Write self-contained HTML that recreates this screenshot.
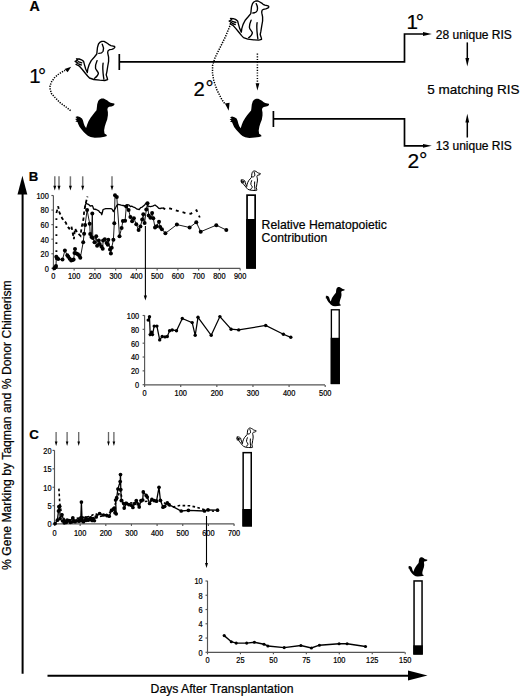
<!DOCTYPE html>
<html><head><meta charset="utf-8"><style>
html,body{margin:0;padding:0;background:#fff;}
svg{display:block;}
svg text{font-family:"Liberation Sans", sans-serif; stroke:#000; stroke-width:0.22px;}
</style></head><body>
<svg width="520" height="696" viewBox="0 0 520 696">
<rect width="520" height="696" fill="#fff"/>
<text x="29.5" y="11.2" font-size="14.2" text-anchor="start" font-weight="bold" >A</text>
<g transform="translate(75.3,40.4) scale(1.0)" fill="none" stroke="#000" stroke-width="1.35" stroke-linejoin="round" stroke-linecap="round"><path d="M26.4,1 L28.7,1 L30.5,2 L32.4,3.1 L33.8,4.3 L35.6,5.2 L37.9,5.7 L39.3,6.1 L39.5,7 L38.4,8.2 L36.5,8.9 L34.2,9.3 L32.8,10.3 L32.4,12 L32.6,13.4 L33.3,16.8 L33.3,21 L32.4,26.1 L31.6,31.2 L30.9,34.5 L32,37.9 L32.3,39.3 L29.5,40.1 L24.4,39.8 L18.5,39.1 L14.2,37.6 L12.3,35.6 L10,32.8 L6.6,28.6 L3.7,25.4 L0.7,24 L2.4,22.6 L-0.2,21 L2.4,19.8 L1.2,18.4 L3.9,18.6 L6.2,19.4 L8.3,21 L9.2,24.4 L10.4,28.6 L12,32.2 L12.5,28.6 L13.8,24.4 L15.9,20.2 L18.9,16.8 L21.5,13.6 L21.8,10.5 L22.2,6.8 L23.2,3.6 L24.5,2 Z" fill="#fff"/><path d="M26.9,3.7 C28.2,6 28.4,9 27.8,10.8 C27,12.3 25,13 23.5,13 M21.8,20.2 C20.6,23 20,26 20.2,27.8 C20.6,29.5 22.5,31 23.1,32.8 C23,34.5 21.6,36.2 19.3,37.9 M27.8,22.7 C27.3,26 27.5,31 28.2,36.2 L28.6,38.8 M3.2,23.5 L6,24.6 M2.8,21.3 L6.5,22.5"/></g>
<g transform="translate(75,97.5) scale(1.0)"><path d="M26.4,1 L28.7,1 L30.5,2 L32.4,3.1 L33.8,4.3 L35.6,5.2 L37.9,5.7 L39.3,6.1 L39.5,7 L38.4,8.2 L36.5,8.9 L34.2,9.3 L32.8,10.3 L32.4,12 L32.9,14.7 L32.9,17.8 L32.2,22 L30.9,25.4 L29.8,28.9 L29.1,32.7 L29.5,36.1 L31.5,37.2 L31.9,38.5 L29.5,39.2 L25.3,39.9 L19.8,40.3 L15.6,39.6 L12.9,38.2 L10.8,36.5 L8.7,34.4 L6.6,32 L4.5,29.2 L3.2,26.4 L2.5,24.6 L0.4,24 L1.8,22.8 L0,21.6 L2.1,20.9 L0.4,19.5 L2.5,18.8 L4.9,19.5 L7,20.9 L8,23 L8.7,25.7 L9.7,28.5 L11.1,30.6 L12.2,27.1 L13.5,23.7 L15.6,20.2 L17.7,17.4 L19.8,14.7 L21.5,12.8 L21.8,10.5 L22.2,6.8 L23.2,3.6 L24.5,2 Z" fill="#000"/></g>
<g transform="translate(229.3,0) scale(1.0)" fill="none" stroke="#000" stroke-width="1.35" stroke-linejoin="round" stroke-linecap="round"><path d="M26.4,1 L28.7,1 L30.5,2 L32.4,3.1 L33.8,4.3 L35.6,5.2 L37.9,5.7 L39.3,6.1 L39.5,7 L38.4,8.2 L36.5,8.9 L34.2,9.3 L32.8,10.3 L32.4,12 L32.6,13.4 L33.3,16.8 L33.3,21 L32.4,26.1 L31.6,31.2 L30.9,34.5 L32,37.9 L32.3,39.3 L29.5,40.1 L24.4,39.8 L18.5,39.1 L14.2,37.6 L12.3,35.6 L10,32.8 L6.6,28.6 L3.7,25.4 L0.7,24 L2.4,22.6 L-0.2,21 L2.4,19.8 L1.2,18.4 L3.9,18.6 L6.2,19.4 L8.3,21 L9.2,24.4 L10.4,28.6 L12,32.2 L12.5,28.6 L13.8,24.4 L15.9,20.2 L18.9,16.8 L21.5,13.6 L21.8,10.5 L22.2,6.8 L23.2,3.6 L24.5,2 Z" fill="#fff"/><path d="M26.9,3.7 C28.2,6 28.4,9 27.8,10.8 C27,12.3 25,13 23.5,13 M21.8,20.2 C20.6,23 20,26 20.2,27.8 C20.6,29.5 22.5,31 23.1,32.8 C23,34.5 21.6,36.2 19.3,37.9 M27.8,22.7 C27.3,26 27.5,31 28.2,36.2 L28.6,38.8 M3.2,23.5 L6,24.6 M2.8,21.3 L6.5,22.5"/></g>
<g transform="translate(229.6,97.7) scale(1.0)"><path d="M26.4,1 L28.7,1 L30.5,2 L32.4,3.1 L33.8,4.3 L35.6,5.2 L37.9,5.7 L39.3,6.1 L39.5,7 L38.4,8.2 L36.5,8.9 L34.2,9.3 L32.8,10.3 L32.4,12 L32.9,14.7 L32.9,17.8 L32.2,22 L30.9,25.4 L29.8,28.9 L29.1,32.7 L29.5,36.1 L31.5,37.2 L31.9,38.5 L29.5,39.2 L25.3,39.9 L19.8,40.3 L15.6,39.6 L12.9,38.2 L10.8,36.5 L8.7,34.4 L6.6,32 L4.5,29.2 L3.2,26.4 L2.5,24.6 L0.4,24 L1.8,22.8 L0,21.6 L2.1,20.9 L0.4,19.5 L2.5,18.8 L4.9,19.5 L7,20.9 L8,23 L8.7,25.7 L9.7,28.5 L11.1,30.6 L12.2,27.1 L13.5,23.7 L15.6,20.2 L17.7,17.4 L19.8,14.7 L21.5,12.8 L21.8,10.5 L22.2,6.8 L23.2,3.6 L24.5,2 Z" fill="#000"/></g>
<text x="29.2" y="82.5" font-size="20.3">1<tspan dx="-2.6" dy="0.4">°</tspan></text>
<text x="193.6" y="95.6" font-size="20.3">2<tspan dx="0.6" dy="-0.6">°</tspan></text>
<text x="406.6" y="29.4" font-size="20.6">1<tspan dx="-2.4" dy="-0.6">°</tspan></text>
<text x="407.6" y="168" font-size="21">2<tspan dx="-0.4" dy="-1.2">°</tspan></text>
<polyline points="70.6,110.7 65.7,106.7 60.1,102.7 55.3,97.8 51.6,93.8 50.2,89.5 50.0,85.8 51.6,81.7 54.5,77.7 58.1,74.5 61.7,72.1 65.0,70.3" fill="none" stroke="#000" stroke-width="1.5" stroke-dasharray="1.3 1.2" stroke-linejoin="round"/>
<polygon points="71.2,66.7 64.6,69.0 67.6,72.2"/>
<polyline points="229.9,25.9 225.4,36.9 220.2,47.3 215.1,57.6 212.6,65.4 212.5,73.1 213.8,80.9 217.0,90.0 221.5,99.0 225.0,104.0" fill="none" stroke="#000" stroke-width="1.5" stroke-dasharray="1.3 1.2" stroke-linejoin="round"/>
<polygon points="228.7,110.8 224.9,103.4 229.6,102.8"/>
<line x1="257.4" y1="53.6" x2="257.4" y2="83.5" stroke="#000" stroke-width="1.5" stroke-dasharray="1.1 1.6"/>
<polygon points="257.4,90.4 255.6,83.3 259.4,83.3"/>
<g stroke="#000" stroke-width="1.7" fill="none" stroke-linejoin="miter">
<line x1="119.3" y1="54" x2="119.3" y2="70"/>
<polyline points="119.3,61.9 404.5,61.9 404.5,34.0 424,34.0"/>
<line x1="273.4" y1="111" x2="273.4" y2="127"/>
<polyline points="273.4,118.8 404.5,118.8 404.5,145.8 424,145.8"/>
</g>
<polygon points="431.8,34.0 423.0,32.1 423.0,35.9"/>
<polygon points="431.8,145.8 423.0,143.9 423.0,147.7"/>
<text x="435.8" y="38.7" font-size="12" text-anchor="start" font-weight="normal" >28 unique RIS</text>
<text x="435.8" y="150.2" font-size="12" text-anchor="start" font-weight="normal" >13 unique RIS</text>
<text x="427.3" y="94" font-size="13.5" text-anchor="start" font-weight="normal" >5 matching RIS</text>
<line x1="467.3" y1="42.4" x2="467.3" y2="59" stroke="#000" stroke-width="1.5"/>
<polygon points="467.3,66.6 465.4,58.0 469.2,58.0"/>
<line x1="467.3" y1="137.5" x2="467.3" y2="121" stroke="#000" stroke-width="1.5"/>
<polygon points="467.3,113.8 465.4,122.4 469.2,122.4"/>
<line x1="22.6" y1="192" x2="22.6" y2="673.8" stroke="#000" stroke-width="2"/>
<polygon points="22.4,175.8 17.5,194.5 27.3,194.5"/>
<line x1="47.5" y1="675.7" x2="410" y2="675.7" stroke="#000" stroke-width="2"/>
<polygon points="427.5,675.5 408,670.5 408,680.5"/>
<text x="150.6" y="692.6" font-size="12.2" text-anchor="start" font-weight="normal" >Days After Transplantation</text>
<text transform="translate(11.3,570) rotate(-90)" font-size="12.2">% Gene Marking by Taqman and % Donor Chimerism</text>
<text x="28.8" y="180.9" font-size="13.2" text-anchor="start" font-weight="bold" >B</text>
<text x="29.2" y="438.8" font-size="13.3" text-anchor="start" font-weight="bold" >C</text>
<g stroke="#555" stroke-width="1.15" fill="none"><line x1="53.4" y1="195.4" x2="53.4" y2="268.4"/><line x1="53.4" y1="268.4" x2="240.2" y2="268.4"/><line x1="51.4" y1="195.5" x2="53.4" y2="195.5"/><line x1="51.4" y1="210.06" x2="53.4" y2="210.06"/><line x1="51.4" y1="224.62" x2="53.4" y2="224.62"/><line x1="51.4" y1="239.18" x2="53.4" y2="239.18"/><line x1="51.4" y1="253.74" x2="53.4" y2="253.74"/><line x1="51.4" y1="268.3" x2="53.4" y2="268.3"/><line x1="53.4" y1="268.4" x2="53.4" y2="270.4"/><line x1="74.15" y1="268.4" x2="74.15" y2="270.4"/><line x1="94.9" y1="268.4" x2="94.9" y2="270.4"/><line x1="115.65" y1="268.4" x2="115.65" y2="270.4"/><line x1="136.4" y1="268.4" x2="136.4" y2="270.4"/><line x1="157.15" y1="268.4" x2="157.15" y2="270.4"/><line x1="177.9" y1="268.4" x2="177.9" y2="270.4"/><line x1="198.65" y1="268.4" x2="198.65" y2="270.4"/><line x1="219.4" y1="268.4" x2="219.4" y2="270.4"/><line x1="240.15" y1="268.4" x2="240.15" y2="270.4"/></g><g font-size="8.2" fill="#000"><text transform="translate(48.80,198.85) scale(0.9,1)" text-anchor="end">100</text><text transform="translate(48.80,213.41) scale(0.9,1)" text-anchor="end">80</text><text transform="translate(48.80,227.97) scale(0.9,1)" text-anchor="end">60</text><text transform="translate(48.80,242.53) scale(0.9,1)" text-anchor="end">40</text><text transform="translate(48.80,257.09) scale(0.9,1)" text-anchor="end">20</text><text transform="translate(48.80,271.65) scale(0.9,1)" text-anchor="end">0</text><text transform="translate(53.40,278.52) scale(0.9,1)" text-anchor="middle">0</text><text transform="translate(74.15,278.52) scale(0.9,1)" text-anchor="middle">100</text><text transform="translate(94.90,278.52) scale(0.9,1)" text-anchor="middle">200</text><text transform="translate(115.65,278.52) scale(0.9,1)" text-anchor="middle">300</text><text transform="translate(136.40,278.52) scale(0.9,1)" text-anchor="middle">400</text><text transform="translate(157.15,278.52) scale(0.9,1)" text-anchor="middle">500</text><text transform="translate(177.90,278.52) scale(0.9,1)" text-anchor="middle">600</text><text transform="translate(198.65,278.52) scale(0.9,1)" text-anchor="middle">700</text><text transform="translate(219.40,278.52) scale(0.9,1)" text-anchor="middle">800</text><text transform="translate(240.15,278.52) scale(0.9,1)" text-anchor="middle">900</text></g>
<polyline points="56.4,268.0 56.4,212.9" fill="none" stroke="#000" stroke-width="1.9" stroke-dasharray="1.7 6.3"/>
<polyline points="56.4,212.9 58.2,206.3 59.3,212.2 61.1,215.8 62.2,218.4 65.9,222.8 67.0,225.7 69.2,228.6 71.4,226.1 73.9,239.2 75.0,228.6 77.6,233.0 80.5,235.9 81.6,227.2 83.4,219.5 84.2,211.0 86.0,202.3 87.5,196.5" fill="none" stroke="#000" stroke-width="1.8" stroke-dasharray="3.4 2.6"/>
<polyline points="162.5,207.9 166.0,209.4 170.0,208.5 177.5,210.8 185.6,213.1 190.8,213.7 196.5,210.2 199.8,217.5" fill="none" stroke="#000" stroke-width="1.8" stroke-dasharray="3 4"/>
<polyline points="84.8,207.7 85.3,205.2 85.9,203.4 88.4,204.3 90.2,206.0 92.3,205.6 92.9,206.7 93.6,209.0 96.2,209.5 98.8,210.8 99.8,212.4 100.8,212.6 101.8,214.7 102.2,213.0 102.7,211.0 103.1,209.5 105.7,208.6 108.3,208.6 110.9,208.6 112.2,209.3 113.4,211.6 114.5,209.7 115.6,207.8 116.9,205.2 118.2,204.3 121.2,205.2 123.1,205.5 125.0,206.0 126.8,204.7 128.6,204.8 130.4,206.5 132.0,206.2 133.5,207.2 135.1,207.7 137.1,209.2 139.2,209.5 140.7,207.6 142.2,207.1 144.6,205.0 145.8,203.4 146.9,202.7 147.5,204.7 148.1,206.2 150.4,206.7 152.7,206.2 155.0,205.0 157.3,206.7 158.8,208.4 160.2,208.5 162.5,207.9" fill="none" stroke="#000" stroke-width="1.3" stroke-linejoin="round"/>
<polyline points="54.3,268.3 55.3,267.3 56.0,265.9 56.3,256.7 57.2,258.2 58.2,259.1 62.5,259.6 64.9,250.5 67.3,255.3 68.3,256.7 69.7,258.7 71.2,260.6 72.6,260.1 73.6,259.6 74.5,252.9 75.0,249.0 76.4,253.4 77.9,254.3 79.3,255.8 80.3,257.7 83.2,242.3 84.1,233.7 85.1,225.0 87.1,210.0 89.7,223.7 90.2,234.0 91.5,237.0 92.3,213.4 92.8,237.9 94.5,242.2 96.2,236.2 97.1,245.7 98.8,240.5 99.7,244.0 101.4,246.6 102.7,248.7 103.1,240.5 104.8,239.2 106.6,243.1 107.8,244.8 108.3,239.7 110.0,249.6 110.9,253.4 111.7,247.8 113.4,239.7 114.3,223.3 115.0,195.3 116.8,197.1 119.5,236.2 121.6,228.0 122.9,221.1 125.1,220.7 126.3,206.5 128.6,210.0 130.4,217.1 132.1,221.3 133.9,218.3 136.3,224.2 138.6,230.1 140.4,226.6 142.2,219.5 143.3,214.2 144.6,222.9 146.3,209.6 147.5,203.3 148.7,215.4 150.4,217.7 152.1,213.1 153.3,218.3 155.0,227.5 156.7,226.3 159.0,221.7 160.2,226.9 161.9,229.2 165.4,233.3 176.9,224.6 189.6,227.5 196.3,222.3 200.7,231.7 216.3,225.2 226.3,230.0" fill="none" stroke="#000" stroke-width="0.9"/>
<g fill="#000"><circle cx="54.3" cy="268.3" r="2.0"/><circle cx="55.3" cy="267.3" r="2.0"/><circle cx="56.0" cy="265.9" r="2.0"/><circle cx="56.3" cy="256.7" r="2.0"/><circle cx="57.2" cy="258.2" r="2.0"/><circle cx="58.2" cy="259.1" r="2.0"/><circle cx="62.5" cy="259.6" r="2.0"/><circle cx="64.9" cy="250.5" r="2.0"/><circle cx="67.3" cy="255.3" r="2.0"/><circle cx="68.3" cy="256.7" r="2.0"/><circle cx="69.7" cy="258.7" r="2.0"/><circle cx="71.2" cy="260.6" r="2.0"/><circle cx="72.6" cy="260.1" r="2.0"/><circle cx="73.6" cy="259.6" r="2.0"/><circle cx="74.5" cy="252.9" r="2.0"/><circle cx="75.0" cy="249.0" r="2.0"/><circle cx="76.4" cy="253.4" r="2.0"/><circle cx="77.9" cy="254.3" r="2.0"/><circle cx="79.3" cy="255.8" r="2.0"/><circle cx="80.3" cy="257.7" r="2.0"/><circle cx="83.2" cy="242.3" r="2.0"/><circle cx="84.1" cy="233.7" r="2.0"/><circle cx="85.1" cy="225.0" r="2.0"/><circle cx="87.1" cy="210.0" r="2.0"/><circle cx="89.7" cy="223.7" r="2.0"/><circle cx="90.2" cy="234.0" r="2.0"/><circle cx="91.5" cy="237.0" r="2.0"/><circle cx="92.3" cy="213.4" r="2.0"/><circle cx="92.8" cy="237.9" r="2.0"/><circle cx="94.5" cy="242.2" r="2.0"/><circle cx="96.2" cy="236.2" r="2.0"/><circle cx="97.1" cy="245.7" r="2.0"/><circle cx="98.8" cy="240.5" r="2.0"/><circle cx="99.7" cy="244.0" r="2.0"/><circle cx="101.4" cy="246.6" r="2.0"/><circle cx="102.7" cy="248.7" r="2.0"/><circle cx="103.1" cy="240.5" r="2.0"/><circle cx="104.8" cy="239.2" r="2.0"/><circle cx="106.6" cy="243.1" r="2.0"/><circle cx="107.8" cy="244.8" r="2.0"/><circle cx="108.3" cy="239.7" r="2.0"/><circle cx="110.0" cy="249.6" r="2.0"/><circle cx="110.9" cy="253.4" r="2.0"/><circle cx="111.7" cy="247.8" r="2.0"/><circle cx="113.4" cy="239.7" r="2.0"/><circle cx="114.3" cy="223.3" r="2.0"/><circle cx="115.0" cy="195.3" r="2.0"/><circle cx="116.8" cy="197.1" r="2.0"/><circle cx="119.5" cy="236.2" r="2.0"/><circle cx="121.6" cy="228.0" r="2.0"/><circle cx="122.9" cy="221.1" r="2.0"/><circle cx="125.1" cy="220.7" r="2.0"/><circle cx="126.3" cy="206.5" r="2.0"/><circle cx="128.6" cy="210.0" r="2.0"/><circle cx="130.4" cy="217.1" r="2.0"/><circle cx="132.1" cy="221.3" r="2.0"/><circle cx="133.9" cy="218.3" r="2.0"/><circle cx="136.3" cy="224.2" r="2.0"/><circle cx="138.6" cy="230.1" r="2.0"/><circle cx="140.4" cy="226.6" r="2.0"/><circle cx="142.2" cy="219.5" r="2.0"/><circle cx="143.3" cy="214.2" r="2.0"/><circle cx="144.6" cy="222.9" r="2.0"/><circle cx="146.3" cy="209.6" r="2.0"/><circle cx="147.5" cy="203.3" r="2.0"/><circle cx="148.7" cy="215.4" r="2.0"/><circle cx="150.4" cy="217.7" r="2.0"/><circle cx="152.1" cy="213.1" r="2.0"/><circle cx="153.3" cy="218.3" r="2.0"/><circle cx="155.0" cy="227.5" r="2.0"/><circle cx="156.7" cy="226.3" r="2.0"/><circle cx="159.0" cy="221.7" r="2.0"/><circle cx="160.2" cy="226.9" r="2.0"/><circle cx="161.9" cy="229.2" r="2.0"/><circle cx="165.4" cy="233.3" r="2.0"/><circle cx="176.9" cy="224.6" r="2.0"/><circle cx="189.6" cy="227.5" r="2.0"/><circle cx="196.3" cy="222.3" r="2.0"/><circle cx="200.7" cy="231.7" r="2.0"/><circle cx="216.3" cy="225.2" r="2.0"/><circle cx="226.3" cy="230.0" r="2.0"/></g>
<line x1="54.8" y1="176.3" x2="54.8" y2="187" stroke="#777" stroke-width="1.5"/>
<polygon points="54.8,190.4 53.3,185.8 56.3,185.8"/>
<line x1="59" y1="176.3" x2="59" y2="187" stroke="#777" stroke-width="1.5"/>
<polygon points="59.0,190.4 57.5,185.8 60.5,185.8"/>
<line x1="70.4" y1="176.3" x2="70.4" y2="187" stroke="#777" stroke-width="1.5"/>
<polygon points="70.4,190.4 68.9,185.8 71.9,185.8"/>
<line x1="82.7" y1="176.3" x2="82.7" y2="187" stroke="#777" stroke-width="1.5"/>
<polygon points="82.7,190.4 81.2,185.8 84.2,185.8"/>
<line x1="112" y1="176.3" x2="112" y2="187" stroke="#777" stroke-width="1.5"/>
<polygon points="112.0,190.4 110.5,185.8 113.5,185.8"/>
<g transform="translate(240.75,170.5) scale(0.5)" fill="none" stroke="#000" stroke-width="2.0" stroke-linejoin="round" stroke-linecap="round"><path d="M26.4,1 L28.7,1 L30.5,2 L32.4,3.1 L33.8,4.3 L35.6,5.2 L37.9,5.7 L39.3,6.1 L39.5,7 L38.4,8.2 L36.5,8.9 L34.2,9.3 L32.8,10.3 L32.4,12 L32.6,13.4 L33.3,16.8 L33.3,21 L32.4,26.1 L31.6,31.2 L30.9,34.5 L32,37.9 L32.3,39.3 L29.5,40.1 L24.4,39.8 L18.5,39.1 L14.2,37.6 L12.3,35.6 L10,32.8 L6.6,28.6 L3.7,25.4 L0.7,24 L2.4,22.6 L-0.2,21 L2.4,19.8 L1.2,18.4 L3.9,18.6 L6.2,19.4 L8.3,21 L9.2,24.4 L10.4,28.6 L12,32.2 L12.5,28.6 L13.8,24.4 L15.9,20.2 L18.9,16.8 L21.5,13.6 L21.8,10.5 L22.2,6.8 L23.2,3.6 L24.5,2 Z" fill="#fff"/><path d="M26.9,3.7 C28.2,6 28.4,9 27.8,10.8 C27,12.3 25,13 23.5,13 M21.8,20.2 C20.6,23 20,26 20.2,27.8 C20.6,29.5 22.5,31 23.1,32.8 C23,34.5 21.6,36.2 19.3,37.9 M27.8,22.7 C27.3,26 27.5,31 28.2,36.2 L28.6,38.8 M3.2,23.5 L6,24.6 M2.8,21.3 L6.5,22.5"/></g>
<rect x="246.2" y="219" width="9.8" height="49.700000000000045" fill="#000"/><rect x="247.05" y="195.15" width="8.10" height="72.70" fill="none" stroke="#000" stroke-width="1.7"/>
<text x="261.6" y="229.0" font-size="12.2" text-anchor="start" font-weight="normal" >Relative Hematopoietic</text>
<text x="261.6" y="242.0" font-size="12.2" text-anchor="start" font-weight="normal" >Contribution</text>
<line x1="145.4" y1="226" x2="145.4" y2="296" stroke="#000" stroke-width="1.1"/>
<polygon points="145.4,300.6 143.8,295.6 147.0,295.6"/>
<g stroke="#555" stroke-width="1.15" fill="none"><line x1="144.6" y1="315.2" x2="144.6" y2="384.9"/><line x1="144.6" y1="384.9" x2="325" y2="384.9"/><line x1="142.6" y1="315.5" x2="144.6" y2="315.5"/><line x1="142.6" y1="329.34" x2="144.6" y2="329.34"/><line x1="142.6" y1="343.18" x2="144.6" y2="343.18"/><line x1="142.6" y1="357.02" x2="144.6" y2="357.02"/><line x1="142.6" y1="370.86" x2="144.6" y2="370.86"/><line x1="142.6" y1="384.7" x2="144.6" y2="384.7"/><line x1="144.6" y1="384.9" x2="144.6" y2="386.9"/><line x1="180.72" y1="384.9" x2="180.72" y2="386.9"/><line x1="216.84" y1="384.9" x2="216.84" y2="386.9"/><line x1="252.95999999999998" y1="384.9" x2="252.95999999999998" y2="386.9"/><line x1="289.08000000000004" y1="384.9" x2="289.08000000000004" y2="386.9"/><line x1="325.20000000000005" y1="384.9" x2="325.20000000000005" y2="386.9"/></g><g font-size="8.2" fill="#000"><text transform="translate(139.10,318.85) scale(0.9,1)" text-anchor="end">100</text><text transform="translate(139.10,332.69) scale(0.9,1)" text-anchor="end">80</text><text transform="translate(139.10,346.53) scale(0.9,1)" text-anchor="end">60</text><text transform="translate(139.10,360.37) scale(0.9,1)" text-anchor="end">40</text><text transform="translate(139.10,374.21) scale(0.9,1)" text-anchor="end">20</text><text transform="translate(139.10,388.05) scale(0.9,1)" text-anchor="end">0</text><text transform="translate(144.60,395.92) scale(0.9,1)" text-anchor="middle">0</text><text transform="translate(180.72,395.92) scale(0.9,1)" text-anchor="middle">100</text><text transform="translate(216.84,395.92) scale(0.9,1)" text-anchor="middle">200</text><text transform="translate(252.96,395.92) scale(0.9,1)" text-anchor="middle">300</text><text transform="translate(289.08,395.92) scale(0.9,1)" text-anchor="middle">400</text><text transform="translate(325.20,395.92) scale(0.9,1)" text-anchor="middle">500</text></g>
<polyline points="148.2,320.1 149.5,316.8 150.2,334.6 151.6,332.3 152.5,334.6 154.2,326.1 156.9,326.1 159.7,339.9 162.2,336.5 165.0,336.9 167.3,336.5 169.6,330.7 172.2,330.0 176.5,330.7 182.3,318.5 192.2,322.6 195.2,335.3 198.0,317.3 211.2,335.3 219.9,316.6 231.1,329.2 238.7,329.9 265.7,325.5 283.4,334.3 290.8,337.3" fill="none" stroke="#000" stroke-width="1.25"/>
<g fill="#000"><circle cx="148.2" cy="320.1" r="1.7"/><circle cx="149.5" cy="316.8" r="1.7"/><circle cx="150.2" cy="334.6" r="1.7"/><circle cx="151.6" cy="332.3" r="1.7"/><circle cx="152.5" cy="334.6" r="1.7"/><circle cx="154.2" cy="326.1" r="1.7"/><circle cx="156.9" cy="326.1" r="1.7"/><circle cx="159.7" cy="339.9" r="1.7"/><circle cx="162.2" cy="336.5" r="1.7"/><circle cx="165.0" cy="336.9" r="1.7"/><circle cx="167.3" cy="336.5" r="1.7"/><circle cx="169.6" cy="330.7" r="1.7"/><circle cx="172.2" cy="330.0" r="1.7"/><circle cx="176.5" cy="330.7" r="1.7"/><circle cx="182.3" cy="318.5" r="1.7"/><circle cx="192.2" cy="322.6" r="1.7"/><circle cx="195.2" cy="335.3" r="1.7"/><circle cx="198.0" cy="317.3" r="1.7"/><circle cx="211.2" cy="335.3" r="1.7"/><circle cx="219.9" cy="316.6" r="1.7"/><circle cx="231.1" cy="329.2" r="1.7"/><circle cx="238.7" cy="329.9" r="1.7"/><circle cx="265.7" cy="325.5" r="1.7"/><circle cx="283.4" cy="334.3" r="1.7"/><circle cx="290.8" cy="337.3" r="1.7"/></g>
<g transform="translate(325.35,286.5) scale(0.49)"><path d="M26.4,1 L28.7,1 L30.5,2 L32.4,3.1 L33.8,4.3 L35.6,5.2 L37.9,5.7 L39.3,6.1 L39.5,7 L38.4,8.2 L36.5,8.9 L34.2,9.3 L32.8,10.3 L32.4,12 L32.9,14.7 L32.9,17.8 L32.2,22 L30.9,25.4 L29.8,28.9 L29.1,32.7 L29.5,36.1 L31.5,37.2 L31.9,38.5 L29.5,39.2 L25.3,39.9 L19.8,40.3 L15.6,39.6 L12.9,38.2 L10.8,36.5 L8.7,34.4 L6.6,32 L4.5,29.2 L3.2,26.4 L2.5,24.6 L0.4,24 L1.8,22.8 L0,21.6 L2.1,20.9 L0.4,19.5 L2.5,18.8 L4.9,19.5 L7,20.9 L8,23 L8.7,25.7 L9.7,28.5 L11.1,30.6 L12.2,27.1 L13.5,23.7 L15.6,20.2 L17.7,17.4 L19.8,14.7 L21.5,12.8 L21.8,10.5 L22.2,6.8 L23.2,3.6 L24.5,2 Z" fill="#000"/></g>
<rect x="330.7" y="337.8" width="9.2" height="46.30000000000001" fill="#000"/><rect x="331.38" y="309.78" width="7.85" height="73.65" fill="none" stroke="#000" stroke-width="1.35"/>
<g stroke="#555" stroke-width="1.15" fill="none"><line x1="54.5" y1="450.3" x2="54.5" y2="523.9"/><line x1="54.5" y1="523.9" x2="234.3" y2="523.9"/><line x1="52.5" y1="450.4" x2="54.5" y2="450.4"/><line x1="52.5" y1="468.83" x2="54.5" y2="468.83"/><line x1="52.5" y1="487.26" x2="54.5" y2="487.26"/><line x1="52.5" y1="505.69" x2="54.5" y2="505.69"/><line x1="52.5" y1="524.12" x2="54.5" y2="524.12"/><line x1="54.5" y1="523.9" x2="54.5" y2="525.9"/><line x1="80.15" y1="523.9" x2="80.15" y2="525.9"/><line x1="105.80000000000001" y1="523.9" x2="105.80000000000001" y2="525.9"/><line x1="131.45" y1="523.9" x2="131.45" y2="525.9"/><line x1="157.10000000000002" y1="523.9" x2="157.10000000000002" y2="525.9"/><line x1="182.75" y1="523.9" x2="182.75" y2="525.9"/><line x1="208.4" y1="523.9" x2="208.4" y2="525.9"/><line x1="234.05" y1="523.9" x2="234.05" y2="525.9"/></g><g font-size="8.2" fill="#000"><text transform="translate(51.50,453.75) scale(0.9,1)" text-anchor="end">20</text><text transform="translate(51.50,472.18) scale(0.9,1)" text-anchor="end">15</text><text transform="translate(51.50,490.61) scale(0.9,1)" text-anchor="end">10</text><text transform="translate(51.50,509.04) scale(0.9,1)" text-anchor="end">5</text><text transform="translate(51.50,527.47) scale(0.9,1)" text-anchor="end">0</text><text transform="translate(54.50,535.52) scale(0.9,1)" text-anchor="middle">0</text><text transform="translate(80.15,535.52) scale(0.9,1)" text-anchor="middle">100</text><text transform="translate(105.80,535.52) scale(0.9,1)" text-anchor="middle">200</text><text transform="translate(131.45,535.52) scale(0.9,1)" text-anchor="middle">300</text><text transform="translate(157.10,535.52) scale(0.9,1)" text-anchor="middle">400</text><text transform="translate(182.75,535.52) scale(0.9,1)" text-anchor="middle">500</text><text transform="translate(208.40,535.52) scale(0.9,1)" text-anchor="middle">600</text><text transform="translate(234.05,535.52) scale(0.9,1)" text-anchor="middle">700</text></g>
<polyline points="58.9,488.6 59.3,495.5 59.7,502.8 61.6,514.4 62.8,517.1 66.0,521.0 72.0,519.0 80.0,518.0 90.0,516.5 95.0,513.5 100.8,516.3 108.0,514.0 113.0,509.0 117.0,500.0 120.0,490.0 123.0,502.0 130.0,503.0 140.0,502.0 150.0,501.0 160.0,500.0 166.0,504.0 172.5,507.2 179.4,505.5 189.8,505.8 196.7,507.2 205.0,510.0 214.0,511.2" fill="none" stroke="#000" stroke-width="1.6" stroke-dasharray="2.6 2.4"/>
<polyline points="55.1,523.6 57.4,520.2 58.5,510.9 58.9,506.7 59.7,506.3 60.1,518.6 62.0,514.8 64.3,522.8 66.2,522.5 69.7,520.9 72.8,517.8 75.1,521.7 78.9,520.9 80.8,517.8 81.4,502.1 82.0,517.8 83.5,521.7 85.8,517.8 88.2,520.2 90.5,517.8 92.7,520.4 96.2,516.9 99.6,513.5 103.5,515.0 106.9,515.6 109.2,516.2 111.5,510.4 113.3,509.2 114.4,508.1 115.0,512.7 116.2,513.8 115.6,500.0 116.7,497.7 117.9,489.0 120.2,481.5 120.5,474.6 120.8,489.6 121.3,500.6 123.7,503.5 124.2,508.1 126.5,503.5 128.8,504.6 131.2,505.2 132.9,507.5 134.6,503.5 136.3,500.6 138.1,504.0 139.2,506.9 141.0,500.6 142.7,500.0 143.3,491.9 146.2,495.4 147.3,497.1 149.6,503.5 151.9,499.4 154.2,500.6 156.5,501.2 159.0,487.3 160.4,500.3 163.0,507.2 164.7,506.3 167.3,502.9 169.0,504.6 181.2,511.0 188.4,510.3 204.5,511.0 208.0,509.8 217.5,510.2" fill="none" stroke="#000" stroke-width="1.3"/>
<polyline points="62.5,520.9 64.1,521.1 65.8,521.7 67.1,519.9 68.9,520.5 70.3,522.4 71.9,521.9 73.5,521.2 74.8,521.1 76.7,520.7 78.5,521.0 79.7,521.1 81.4,519.7 82.6,521.2 84.2,520.7 86.1,520.5 88.1,519.5 89.9,519.5 91.8,520.6 93.1,518.4 94.5,520.7" fill="none" stroke="#000" stroke-width="1.3"/>
<g fill="#000"><circle cx="55.1" cy="523.6" r="1.85"/><circle cx="57.4" cy="520.2" r="1.85"/><circle cx="58.5" cy="510.9" r="1.85"/><circle cx="58.9" cy="506.7" r="1.85"/><circle cx="59.7" cy="506.3" r="1.85"/><circle cx="60.1" cy="518.6" r="1.85"/><circle cx="62.0" cy="514.8" r="1.85"/><circle cx="64.3" cy="522.8" r="1.85"/><circle cx="66.2" cy="522.5" r="1.85"/><circle cx="69.7" cy="520.9" r="1.85"/><circle cx="72.8" cy="517.8" r="1.85"/><circle cx="75.1" cy="521.7" r="1.85"/><circle cx="78.9" cy="520.9" r="1.85"/><circle cx="80.8" cy="517.8" r="1.85"/><circle cx="81.4" cy="502.1" r="1.85"/><circle cx="82.0" cy="517.8" r="1.85"/><circle cx="83.5" cy="521.7" r="1.85"/><circle cx="85.8" cy="517.8" r="1.85"/><circle cx="88.2" cy="520.2" r="1.85"/><circle cx="90.5" cy="517.8" r="1.85"/><circle cx="92.7" cy="520.4" r="1.85"/><circle cx="96.2" cy="516.9" r="1.85"/><circle cx="99.6" cy="513.5" r="1.85"/><circle cx="103.5" cy="515.0" r="1.85"/><circle cx="106.9" cy="515.6" r="1.85"/><circle cx="109.2" cy="516.2" r="1.85"/><circle cx="111.5" cy="510.4" r="1.85"/><circle cx="113.3" cy="509.2" r="1.85"/><circle cx="114.4" cy="508.1" r="1.85"/><circle cx="115.0" cy="512.7" r="1.85"/><circle cx="116.2" cy="513.8" r="1.85"/><circle cx="115.6" cy="500.0" r="1.85"/><circle cx="116.7" cy="497.7" r="1.85"/><circle cx="117.9" cy="489.0" r="1.85"/><circle cx="120.2" cy="481.5" r="1.85"/><circle cx="120.5" cy="474.6" r="1.85"/><circle cx="120.8" cy="489.6" r="1.85"/><circle cx="121.3" cy="500.6" r="1.85"/><circle cx="123.7" cy="503.5" r="1.85"/><circle cx="124.2" cy="508.1" r="1.85"/><circle cx="126.5" cy="503.5" r="1.85"/><circle cx="128.8" cy="504.6" r="1.85"/><circle cx="131.2" cy="505.2" r="1.85"/><circle cx="132.9" cy="507.5" r="1.85"/><circle cx="134.6" cy="503.5" r="1.85"/><circle cx="136.3" cy="500.6" r="1.85"/><circle cx="138.1" cy="504.0" r="1.85"/><circle cx="139.2" cy="506.9" r="1.85"/><circle cx="141.0" cy="500.6" r="1.85"/><circle cx="142.7" cy="500.0" r="1.85"/><circle cx="143.3" cy="491.9" r="1.85"/><circle cx="146.2" cy="495.4" r="1.85"/><circle cx="147.3" cy="497.1" r="1.85"/><circle cx="149.6" cy="503.5" r="1.85"/><circle cx="151.9" cy="499.4" r="1.85"/><circle cx="154.2" cy="500.6" r="1.85"/><circle cx="156.5" cy="501.2" r="1.85"/><circle cx="159.0" cy="487.3" r="1.85"/><circle cx="160.4" cy="500.3" r="1.85"/><circle cx="163.0" cy="507.2" r="1.85"/><circle cx="164.7" cy="506.3" r="1.85"/><circle cx="167.3" cy="502.9" r="1.85"/><circle cx="169.0" cy="504.6" r="1.85"/><circle cx="181.2" cy="511.0" r="1.85"/><circle cx="188.4" cy="510.3" r="1.85"/><circle cx="204.5" cy="511.0" r="1.85"/><circle cx="208.0" cy="509.8" r="1.85"/><circle cx="217.5" cy="510.2" r="1.85"/><circle cx="62.5" cy="520.9" r="1.75"/><circle cx="64.1" cy="521.1" r="1.75"/><circle cx="65.8" cy="521.7" r="1.75"/><circle cx="67.1" cy="519.9" r="1.75"/><circle cx="68.9" cy="520.5" r="1.75"/><circle cx="70.3" cy="522.4" r="1.75"/><circle cx="71.9" cy="521.9" r="1.75"/><circle cx="73.5" cy="521.2" r="1.75"/><circle cx="74.8" cy="521.1" r="1.75"/><circle cx="76.7" cy="520.7" r="1.75"/><circle cx="78.5" cy="521.0" r="1.75"/><circle cx="79.7" cy="521.1" r="1.75"/><circle cx="81.4" cy="519.7" r="1.75"/><circle cx="82.6" cy="521.2" r="1.75"/><circle cx="84.2" cy="520.7" r="1.75"/><circle cx="86.1" cy="520.5" r="1.75"/><circle cx="88.1" cy="519.5" r="1.75"/><circle cx="89.9" cy="519.5" r="1.75"/><circle cx="91.8" cy="520.6" r="1.75"/><circle cx="93.1" cy="518.4" r="1.75"/><circle cx="94.5" cy="520.7" r="1.75"/></g>
<line x1="56.1" y1="432" x2="56.1" y2="442.5" stroke="#666" stroke-width="1.3"/>
<polygon points="56.1,446.0 54.8,441.6 57.5,441.6"/>
<line x1="67.1" y1="432" x2="67.1" y2="442.5" stroke="#666" stroke-width="1.3"/>
<polygon points="67.1,446.0 65.8,441.6 68.4,441.6"/>
<line x1="78.7" y1="432" x2="78.7" y2="442.5" stroke="#666" stroke-width="1.3"/>
<polygon points="78.7,446.0 77.4,441.6 80.0,441.6"/>
<line x1="108.5" y1="432" x2="108.5" y2="442.5" stroke="#666" stroke-width="1.3"/>
<polygon points="108.5,446.0 107.2,441.6 109.8,441.6"/>
<line x1="113.9" y1="432" x2="113.9" y2="442.5" stroke="#666" stroke-width="1.3"/>
<polygon points="113.9,446.0 112.6,441.6 115.2,441.6"/>
<g transform="translate(236.45,427.6) scale(0.5)" fill="none" stroke="#000" stroke-width="2.0" stroke-linejoin="round" stroke-linecap="round"><path d="M26.4,1 L28.7,1 L30.5,2 L32.4,3.1 L33.8,4.3 L35.6,5.2 L37.9,5.7 L39.3,6.1 L39.5,7 L38.4,8.2 L36.5,8.9 L34.2,9.3 L32.8,10.3 L32.4,12 L32.6,13.4 L33.3,16.8 L33.3,21 L32.4,26.1 L31.6,31.2 L30.9,34.5 L32,37.9 L32.3,39.3 L29.5,40.1 L24.4,39.8 L18.5,39.1 L14.2,37.6 L12.3,35.6 L10,32.8 L6.6,28.6 L3.7,25.4 L0.7,24 L2.4,22.6 L-0.2,21 L2.4,19.8 L1.2,18.4 L3.9,18.6 L6.2,19.4 L8.3,21 L9.2,24.4 L10.4,28.6 L12,32.2 L12.5,28.6 L13.8,24.4 L15.9,20.2 L18.9,16.8 L21.5,13.6 L21.8,10.5 L22.2,6.8 L23.2,3.6 L24.5,2 Z" fill="#fff"/><path d="M26.9,3.7 C28.2,6 28.4,9 27.8,10.8 C27,12.3 25,13 23.5,13 M21.8,20.2 C20.6,23 20,26 20.2,27.8 C20.6,29.5 22.5,31 23.1,32.8 C23,34.5 21.6,36.2 19.3,37.9 M27.8,22.7 C27.3,26 27.5,31 28.2,36.2 L28.6,38.8 M3.2,23.5 L6,24.6 M2.8,21.3 L6.5,22.5"/></g>
<rect x="242.4" y="509" width="9.6" height="17.5" fill="#000"/><rect x="243.15" y="452.65" width="8.10" height="73.10" fill="none" stroke="#000" stroke-width="1.5"/>
<line x1="206.5" y1="516" x2="206.5" y2="564" stroke="#000" stroke-width="1.1"/>
<polygon points="206.5,568.0 205.0,563.0 208.0,563.0"/>
<g stroke="#555" stroke-width="1.15" fill="none"><line x1="207.5" y1="580.8" x2="207.5" y2="652.3"/><line x1="207.5" y1="652.3" x2="404.8" y2="652.3"/><line x1="205.5" y1="581.0" x2="207.5" y2="581.0"/><line x1="205.5" y1="595.26" x2="207.5" y2="595.26"/><line x1="205.5" y1="609.52" x2="207.5" y2="609.52"/><line x1="205.5" y1="623.78" x2="207.5" y2="623.78"/><line x1="205.5" y1="638.04" x2="207.5" y2="638.04"/><line x1="205.5" y1="652.3" x2="207.5" y2="652.3"/><line x1="207.5" y1="652.3" x2="207.5" y2="654.3"/><line x1="240.45" y1="652.3" x2="240.45" y2="654.3"/><line x1="273.4" y1="652.3" x2="273.4" y2="654.3"/><line x1="306.35" y1="652.3" x2="306.35" y2="654.3"/><line x1="339.3" y1="652.3" x2="339.3" y2="654.3"/><line x1="372.25" y1="652.3" x2="372.25" y2="654.3"/><line x1="405.20000000000005" y1="652.3" x2="405.20000000000005" y2="654.3"/></g><g font-size="8.2" fill="#000"><text transform="translate(202.70,584.35) scale(0.9,1)" text-anchor="end">10</text><text transform="translate(202.70,598.61) scale(0.9,1)" text-anchor="end">8</text><text transform="translate(202.70,612.87) scale(0.9,1)" text-anchor="end">6</text><text transform="translate(202.70,627.13) scale(0.9,1)" text-anchor="end">4</text><text transform="translate(202.70,641.39) scale(0.9,1)" text-anchor="end">2</text><text transform="translate(202.70,655.65) scale(0.9,1)" text-anchor="end">0</text><text transform="translate(207.50,663.02) scale(0.9,1)" text-anchor="middle">0</text><text transform="translate(240.45,663.02) scale(0.9,1)" text-anchor="middle">25</text><text transform="translate(273.40,663.02) scale(0.9,1)" text-anchor="middle">50</text><text transform="translate(306.35,663.02) scale(0.9,1)" text-anchor="middle">75</text><text transform="translate(339.30,663.02) scale(0.9,1)" text-anchor="middle">100</text><text transform="translate(372.25,663.02) scale(0.9,1)" text-anchor="middle">125</text><text transform="translate(405.20,663.02) scale(0.9,1)" text-anchor="middle">150</text></g>
<polyline points="224.2,635.6 231.3,641.7 236.2,643.1 246.7,643.1 254.4,642.3 264.0,644.2 267.9,646.0 284.2,647.6 300.9,645.5 311.4,648.0 319.4,645.2 339.1,643.7 347.1,643.7 365.5,646.5" fill="none" stroke="#000" stroke-width="1.4"/>
<g fill="#000"><circle cx="224.2" cy="635.6" r="1.55"/><circle cx="231.3" cy="641.7" r="1.55"/><circle cx="236.2" cy="643.1" r="1.55"/><circle cx="246.7" cy="643.1" r="1.55"/><circle cx="254.4" cy="642.3" r="1.55"/><circle cx="264.0" cy="644.2" r="1.55"/><circle cx="267.9" cy="646.0" r="1.55"/><circle cx="284.2" cy="647.6" r="1.55"/><circle cx="300.9" cy="645.5" r="1.55"/><circle cx="311.4" cy="648.0" r="1.55"/><circle cx="319.4" cy="645.2" r="1.55"/><circle cx="339.1" cy="643.7" r="1.55"/><circle cx="347.1" cy="643.7" r="1.55"/><circle cx="365.5" cy="646.5" r="1.55"/></g>
<g transform="translate(408.05,556.8) scale(0.49)"><path d="M26.4,1 L28.7,1 L30.5,2 L32.4,3.1 L33.8,4.3 L35.6,5.2 L37.9,5.7 L39.3,6.1 L39.5,7 L38.4,8.2 L36.5,8.9 L34.2,9.3 L32.8,10.3 L32.4,12 L32.9,14.7 L32.9,17.8 L32.2,22 L30.9,25.4 L29.8,28.9 L29.1,32.7 L29.5,36.1 L31.5,37.2 L31.9,38.5 L29.5,39.2 L25.3,39.9 L19.8,40.3 L15.6,39.6 L12.9,38.2 L10.8,36.5 L8.7,34.4 L6.6,32 L4.5,29.2 L3.2,26.4 L2.5,24.6 L0.4,24 L1.8,22.8 L0,21.6 L2.1,20.9 L0.4,19.5 L2.5,18.8 L4.9,19.5 L7,20.9 L8,23 L8.7,25.7 L9.7,28.5 L11.1,30.6 L12.2,27.1 L13.5,23.7 L15.6,20.2 L17.7,17.4 L19.8,14.7 L21.5,12.8 L21.8,10.5 L22.2,6.8 L23.2,3.6 L24.5,2 Z" fill="#000"/></g>
<rect x="413.3" y="645.3" width="9.5" height="9.300000000000068" fill="#000"/><rect x="414.05" y="580.95" width="8.00" height="72.90" fill="none" stroke="#000" stroke-width="1.5"/>
</svg>
</body></html>
